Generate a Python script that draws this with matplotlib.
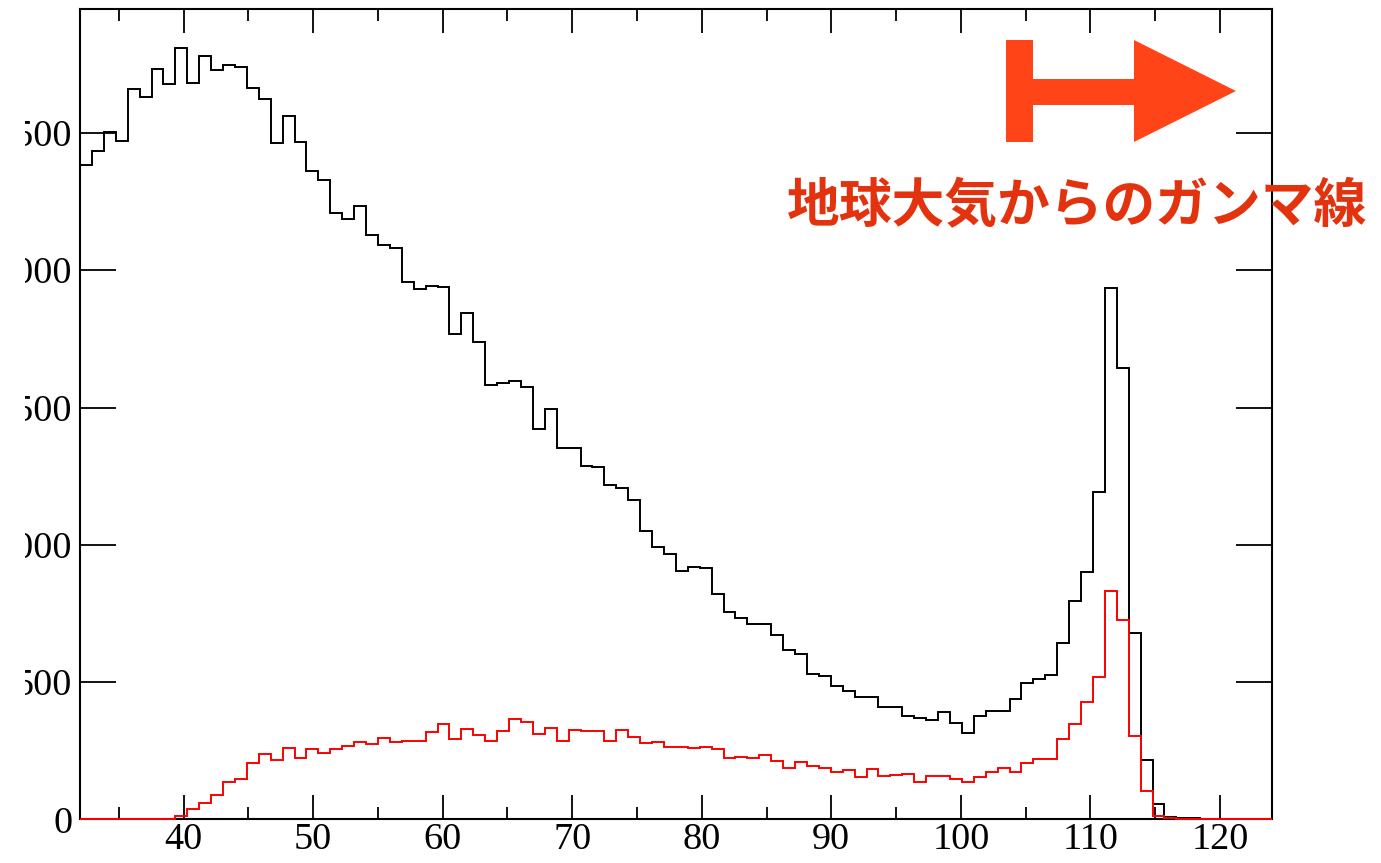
import numpy as np
import matplotlib
matplotlib.use("Agg")
import matplotlib.pyplot as plt
from matplotlib.patches import Polygon, Rectangle
from matplotlib.ticker import MultipleLocator, NullLocator

# 100 bins from 32 to 124
bin_lo = 32
bin_hi = 124
n_bins = 100

all_events = [2382, 2433, 2502, 2469, 2661, 2632, 2733, 2677, 2810, 2682,
              2780, 2728, 2749, 2741, 2663, 2622, 2463, 2561, 2468, 2363,
              2328, 2207, 2186, 2233, 2130, 2093, 2080, 1957, 1930, 1942,
              1938, 1766, 1844, 1738, 1582, 1590, 1598, 1573, 1423, 1495,
              1352, 1351, 1288, 1284, 1217, 1205, 1164, 1050, 993, 965,
              906, 919, 914, 821, 756, 732, 712, 712, 671, 618,
              602, 529, 523, 487, 468, 447, 444, 408, 408, 375,
              368, 362, 392, 352, 315, 376, 393, 396, 437, 498,
              511, 526, 641, 796, 900, 1193, 1936, 1645, 679, 216,
              55, 10, 6, 3, 2, 1, 1, 0, 0, 0]

selected = [0, 0, 0, 0, 0, 0, 0, 2, 12, 36,
            61, 88, 137, 146, 206, 239, 217, 260, 224, 256,
            243, 257, 268, 281, 273, 296, 283, 286, 287, 319,
            347, 293, 329, 306, 286, 320, 367, 354, 312, 331,
            284, 325, 320, 323, 284, 325, 300, 278, 280, 265,
            264, 258, 262, 256, 222, 228, 224, 235, 211, 187,
            209, 194, 188, 171, 180, 153, 184, 157, 161, 165,
            137, 158, 158, 146, 135, 155, 172, 187, 171, 204,
            218, 218, 294, 347, 428, 520, 833, 726, 303, 103,
            12, 5, 2, 1, 1, 0, 0, 0, 0, 0]

x_ticks = [40, 50, 60, 70, 80, 90, 100, 110, 120]
y_ticks = [0, 500, 1000, 1500, 2000, 2500]
label = "地球大気からのガンマ線"

W, H = 1381, 863
fig = plt.figure(figsize=(W / 100, H / 100), dpi=100)
ax = fig.add_axes([80 / W, 1 - 819.3 / H, (1271.7 - 80) / W, (819.3 - 9.3) / H])

edges = np.linspace(bin_lo, bin_hi, n_bins + 1)
ax.stairs(all_events, edges, color="black", linewidth=1.4, zorder=3, clip_on=False)
ax.stairs(selected, edges, color="#ff0000", linewidth=1.4, zorder=4, clip_on=False)

ax.set_xlim(bin_lo, bin_hi)
ax.set_ylim(0, 1.05 * max(all_events))

ax.set_xticks(x_ticks)
ax.xaxis.set_minor_locator(MultipleLocator(5))
ax.set_yticks(y_ticks)
ax.yaxis.set_minor_locator(NullLocator())

for s in ax.spines.values():
    s.set_linewidth(1.5)

ax.tick_params(axis="x", which="major", direction="in", length=17.3, width=1.3,
               top=True, labelsize=27.5, pad=2)
ax.tick_params(axis="x", which="minor", direction="in", length=8.6, width=1.3, top=True)
ax.tick_params(axis="y", which="major", direction="in", length=26, width=1.3,
               right=True, labelsize=27.5, pad=5.5)
for t in ax.get_xticklabels() + ax.get_yticklabels():
    t.set_fontfamily("Liberation Serif")

# the left side of the y labels is cut off in the original
fig.patches.append(Rectangle((0, 0), 25 / W, 1, transform=fig.transFigure,
                             facecolor="white", edgecolor="none", zorder=10))


def px(x, y):
    return (x / W, 1 - y / H)


arrow_pts = [(1006, 40), (1033, 40), (1033, 79), (1134, 79), (1134, 40),
             (1236, 91), (1134, 142), (1134, 105), (1033, 105), (1033, 142),
             (1006, 142)]
fig.patches.append(Polygon([px(x, y) for x, y in arrow_pts], closed=True,
                           transform=fig.transFigure, facecolor="#ff4418",
                           edgecolor="none", zorder=11))

fig.text(1077 / W, 1 - 207 / H, label, ha="center", va="center", fontsize=38,
         fontweight="bold", color="#e3320e", family=["Noto Sans CJK JP", "DejaVu Sans"],
         zorder=12)

fig.savefig("out.png", dpi=100)
